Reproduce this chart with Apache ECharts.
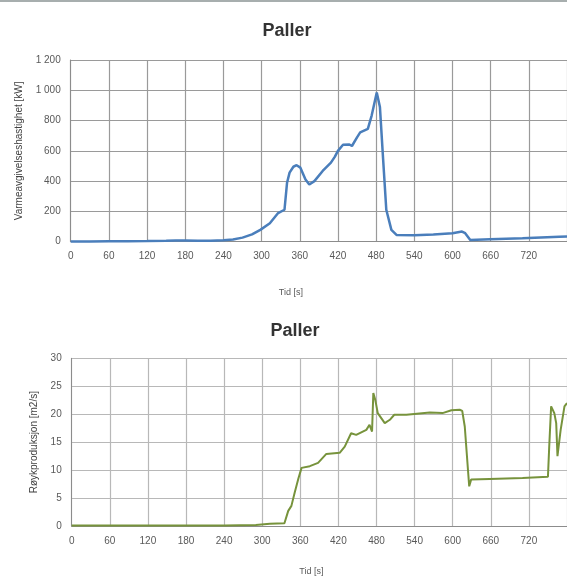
<!DOCTYPE html>
<html>
<head>
<meta charset="utf-8">
<script src="https://cdn.jsdelivr.net/npm/echarts@6/dist/echarts.min.js"></script>
<style>
html,body{margin:0;padding:0;background:#fff;}
#chart{width:567px;height:577px;}
</style>
</head>
<body>
<div id="chart"></div>
<script>
// ---- Data ----
var chartTitle = 'Paller';
var xAxisName = 'Tid [s]';
var hrrAxisName = 'Varmeavgivelseshastighet [kW]';
var smokeAxisName = 'Røykproduksjon [m2/s]';

var hrrTime  = [0, 30, 60, 90, 120, 150, 165, 180, 200, 220, 240, 255, 270, 285, 298, 313, 326, 336, 340, 344, 350, 355, 361, 369, 375, 383, 396, 409, 415, 420, 428, 438, 442, 445, 450, 455, 467, 473, 481, 486, 491, 496, 504, 512, 540, 570, 600, 615, 620, 628, 659, 710, 768, 780];
var hrrValue = [2, 2, 3, 3, 4, 6, 8, 8, 6, 6, 9, 15, 27, 48, 78, 122, 189, 211, 389, 456, 495, 505, 489, 411, 378, 400, 467, 522, 560, 600, 640, 642, 632, 645, 689, 722, 745, 833, 985, 889, 545, 211, 78, 45, 42, 48, 56, 67, 56, 11, 16, 22, 33, 35];

var smokeTime  = [0, 60, 120, 180, 240, 290, 312, 335, 341, 346, 351, 357, 362, 375, 388, 401, 422, 430, 440, 448, 464, 469, 473, 475, 478, 482, 493, 501, 508, 527, 564, 584, 598, 611, 615, 619, 624, 626, 629, 658, 710, 750, 752, 755, 760, 763, 765, 770, 776, 780];
var smokeValue = [0.1, 0.1, 0.1, 0.1, 0.1, 0.2, 0.4, 0.5, 2.7, 3.6, 5.9, 8.5, 10.4, 10.7, 11.3, 12.9, 13.1, 14.2, 16.6, 16.3, 17.2, 18.1, 16.9, 23.8, 22.6, 20.2, 18.4, 19.0, 19.9, 19.9, 20.3, 20.2, 20.7, 20.8, 20.6, 17.8, 10.1, 7.1, 8.3, 8.4, 8.6, 8.8, 14.2, 21.4, 20.2, 18.4, 12.5, 17.2, 21.4, 22.0];

function pairs(xs, ys){ return xs.map(function(x,i){ return [x, ys[i]]; }); }

var FONT = 'Liberation Sans, Arial, sans-serif';
var labelStyle = {color:'#595959', fontSize:10, fontFamily:FONT};

function xAxisCfg(gridIndex, gap, pad){
  return {
    type:'value', gridIndex:gridIndex, min:0, max:780, interval:60,
    name:xAxisName, nameLocation:'middle', nameGap:gap,
    nameTextStyle:{color:'#595959', fontSize:9, fontFamily:FONT, padding:pad},
    axisLine:{show:true, lineStyle:{color:'#8c8c8c', width:1}},
    axisTick:{show:false},
    axisLabel:Object.assign({margin:10, showMaxLabel:false}, labelStyle),
    splitLine:{show:true, lineStyle:{color: gridIndex===0 ? '#9a9a9a' : '#b8b8b8', width:1.2}}
  };
}

var chart = echarts.init(document.getElementById('chart'), null, {renderer:'canvas'});
chart.setOption({
  animation:false,
  backgroundColor:'#ffffff',
  graphic:[{type:'rect', left:0, top:0, shape:{width:567, height:2}, style:{fill:'#a7aeae'}}],
  title:[
    {text:chartTitle, left:282, top:17, textAlign:'center',
     textStyle:{fontSize:18, fontWeight:'bold', color:'#333', fontFamily:FONT}},
    {text:chartTitle, left:290, top:317, textAlign:'center',
     textStyle:{fontSize:18, fontWeight:'bold', color:'#333', fontFamily:FONT}}
  ],
  grid:[
    {left:70.7, top:60, width:504.4, height:181.7},
    {left:71.7, top:358.3, width:495.3, height:168.4}
  ],
  xAxis:[ xAxisCfg(0, 46, [0,56,0,0]), xAxisCfg(1, 41, [0,16,0,0]) ],
  yAxis:[
    {type:'value', gridIndex:0, min:0, max:1200, interval:200,
     name:hrrAxisName, nameLocation:'middle', nameGap:46, nameRotate:90,
     nameTextStyle:{color:'#404040', fontSize:10, fontFamily:FONT},
     axisLine:{show:true, lineStyle:{color:'#8c8c8c'}}, axisTick:{show:false},
     axisLabel:Object.assign({margin:10, formatter:function(v){ return v>=1000 ? String(v).replace(/(\d)(\d{3})$/,'$1 $2') : String(v); }}, labelStyle),
     splitLine:{show:true, lineStyle:{color:'#9a9a9a', width:1.2}}},
    {type:'value', gridIndex:1, min:0, max:30, interval:5,
     name:smokeAxisName, nameLocation:'middle', nameGap:31, nameRotate:90,
     nameTextStyle:{color:'#404040', fontSize:10, fontFamily:FONT},
     axisLine:{show:true, lineStyle:{color:'#8c8c8c'}}, axisTick:{show:false},
     axisLabel:Object.assign({margin:10}, labelStyle),
     splitLine:{show:true, lineStyle:{color:'#b8b8b8', width:1.2}}}
  ],
  series:[
    {type:'line', xAxisIndex:0, yAxisIndex:0, data:pairs(hrrTime, hrrValue),
     showSymbol:false, symbol:'none', lineStyle:{color:'#4a7ebb', width:2.5}},
    {type:'line', xAxisIndex:1, yAxisIndex:1, data:pairs(smokeTime, smokeValue),
     showSymbol:false, symbol:'none', lineStyle:{color:'#77933c', width:2}}
  ]
});
</script>
</body>
</html>
